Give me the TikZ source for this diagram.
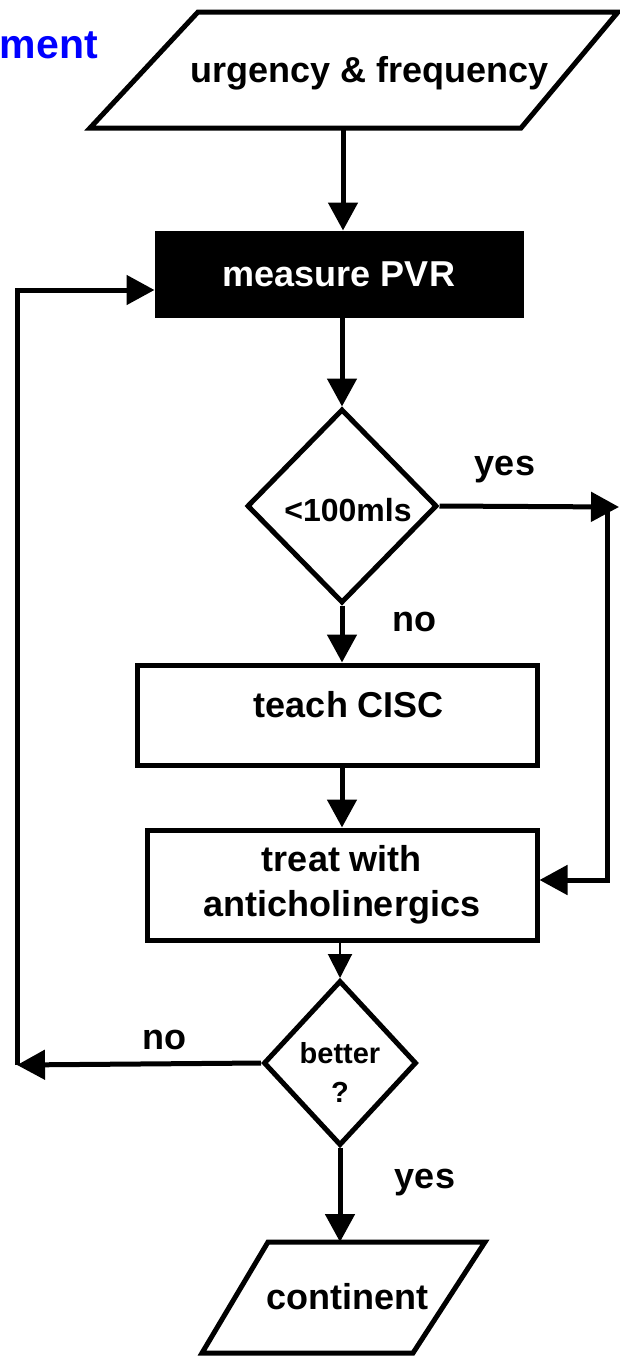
\documentclass[tikz,border=0pt]{standalone}
\usepackage{fontspec}
\setmainfont{Liberation Sans}
\usetikzlibrary{shapes.geometric,arrows.meta,calc}
\begin{document}
\begin{tikzpicture}[x=1pt,y=-1pt,
  shapeline/.style={draw=black,line width=5pt,line join=miter},
  stepbox/.style={shapeline,rectangle,inner sep=0pt,align=center},
  decision/.style={shapeline,diamond,inner sep=0pt,align=center},
  txt/.style={font=\fontsize{36}{45}\selectfont\bfseries,inner sep=0pt,align=center},
  arr/.style={line width=5pt,-{Triangle[length=28pt,width=29pt]}},
  thinarr/.style={line width=2pt,-{Triangle[length=24pt,width=24pt]}}]
\useasboundingbox (0,0) rectangle (620,1357);
% title fragment
\node[txt,font=\fontsize{41}{48}\selectfont\bfseries,text={rgb,255:red,0;green,0;blue,255},anchor=base east] (title) at (98,58) {ment};
% input parallelogram
\draw[shapeline] (198,12) -- (618,12) -- (521,128) -- (90,128) -- cycle;
\node[txt,anchor=base] (urg) at (370,82) {urgency \& frequency};
\coordinate (urgbot) at (343,128);
% measure PVR
\node[stepbox,fill=black,line width=1pt,minimum width=368pt,minimum height=86pt,text=white,font=\fontsize{36}{45}\selectfont\bfseries] (pvr) at (339,274) {measure PVR};
% decision 1
\node[decision,minimum width=190pt,minimum height=194pt] (dia1) at (342,506) {};
\node[txt,font=\fontsize{32}{40}\selectfont\bfseries] (dia1t) at (348,510) {<100mls};
% teach CISC
\node[stepbox,minimum width=400pt,minimum height=100pt] (teach) at (337,715) {};
\node[txt] (teacht) at (349,705) {teach CISC};
% treat
\node[stepbox,minimum width=390pt,minimum height=110pt,font=\fontsize{36}{45}\selectfont\bfseries] (treat) at (342,885) {treat with\\anticholinergics};
% decision 2
\node[decision,minimum width=153pt,minimum height=165pt] (better) at (340,1063) {};
\node[txt,font=\fontsize{29}{39}\selectfont\bfseries] (bettert) at (340,1072) {better\\?};
% output parallelogram
\draw[shapeline] (268,1242) -- (485,1242) -- (413,1353) -- (202,1353) -- cycle;
\node[txt] (cont) at (347,1297) {continent};
\coordinate (conttop) at (340,1242);
% rails
\coordinate (yestip) at (619,507);
\coordinate (railtop) at (607,507);
\coordinate (railbot) at (607,880);
\coordinate (loopbot) at (17,1065);
\coordinate (looptop) at (17,290);
% connectors
\draw[arr] (urgbot) -- (pvr.north -| urgbot);
\draw[arr] (pvr.south -| dia1.north) -- (dia1.north);
\draw[arr] (dia1.east) -- (yestip);
\draw[arr,line join=miter] (railtop) -- (railbot) -- (treat.east |- railbot);
\draw[arr] (dia1.south) -- (dia1.south |- teach.north);
\draw[arr] (teach.south -| treat.north) -- (treat.north);
\draw[thinarr] (treat.south -| better.north) -- (better.north);
\draw[arr] (better.west) -- (loopbot);
\draw[arr,line join=miter] (loopbot) -- (looptop) -- (pvr.west |- looptop);
\draw[arr] (better.south) -- (better.south |- conttop);
% labels
\node[txt] (yes1) at (505,470) {yes};
\node[txt] (no1) at (414,622) {no};
\node[txt] (no2) at (164,1040) {no};
\node[txt] (yes2) at (425,1183) {yes};
\end{tikzpicture}
\end{document}
